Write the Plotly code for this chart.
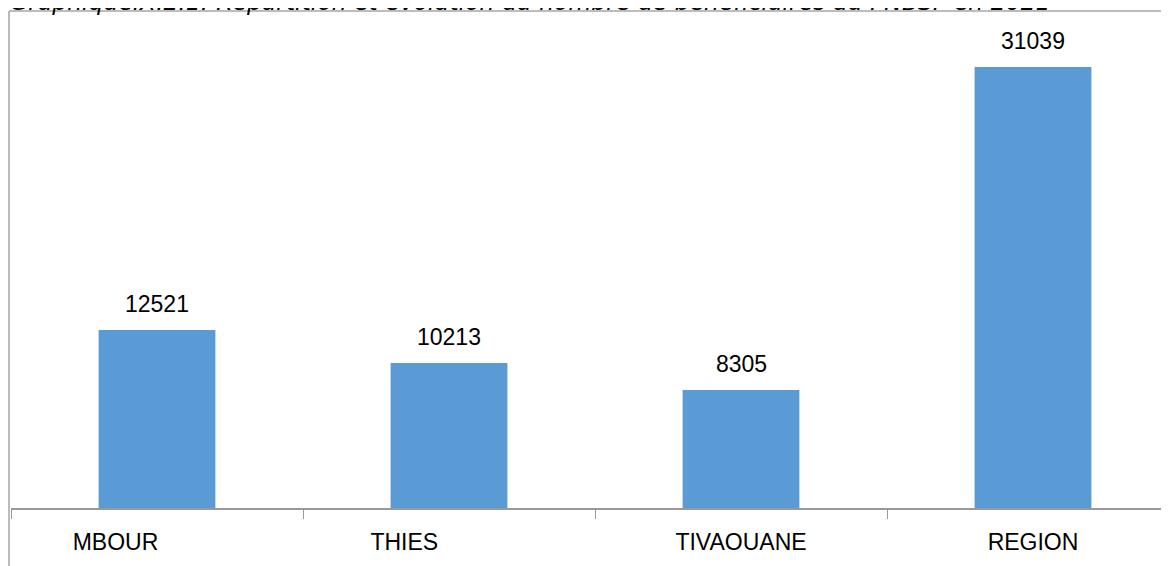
import plotly.graph_objects as go

# ---- data ----
categories = ["MBOUR", "THIES", "TIVAOUANE", "REGION"]
values = [12521, 10213, 8305, 31039]
# trailing padding as in the source labels (they are not centred there)
label_padding = [13, 14, 0, 0]
title_text = "GraphiqueIX.2.1: Répartition et évolution du nombre de bénéficiaires du PNBSF en 2021"

W, H = 1169, 566
ML, MR, MT, MB = 3, 0, 3, 66
PW = W - ML - MR
PH = H - MT - MB
CAT_PX = 292.0
PX_PER_UNIT = 441.0 / 31039.0  # vertical scale of the reference

ticktext = [c + "\u00a0" * p for c, p in zip(categories, label_padding)]

fig = go.Figure()
fig.add_trace(go.Bar(
    x=categories, y=values, width=0.4,
    marker=dict(color="#5B9BD5", line=dict(width=0)),
    hoverinfo="x+y",
))

for c, v in zip(categories, values):
    fig.add_annotation(
        x=c, y=v, text=str(v), showarrow=False, yanchor="bottom",
        yshift=11, font=dict(family="Liberation Sans", size=23, color="#000000"),
    )

# title, cut at the top edge like in the reference
title_center_px = -6
fig.add_annotation(
    xref="paper", yref="paper", x=(0 - ML) / PW, y=1 + (MT - title_center_px) / PH,
    xanchor="left", yanchor="middle", text="<i>" + title_text + "</i>",
    showarrow=False, font=dict(family="DejaVu Sans", size=23.5, color="#000000"),
)

frame_color = "#a6a6a6"
fx = (1 - ML) / PW
fig.add_shape(type="line", xref="paper", yref="paper", x0=fx, x1=fx,
              y0=1, y1=-MB / PH, line=dict(color=frame_color, width=1.5))
fig.add_shape(type="line", xref="paper", yref="paper", x0=fx, x1=1.0,
              y0=1, y1=1, line=dict(color=frame_color, width=1.5))

fig.update_layout(
    width=W, height=H,
    margin=dict(l=ML, r=MR, t=MT, b=MB),
    paper_bgcolor="white", plot_bgcolor="white",
    showlegend=False, bargap=0.6,
    xaxis=dict(
        type="category", range=[-0.5, -0.5 + PW / CAT_PX],
        tickmode="array", tickvals=categories, ticktext=ticktext,
        tickson="boundaries", ticks="outside", ticklen=9, tickwidth=1,
        tickcolor="#999999", showline=True, linecolor="#999999", linewidth=2,
        showgrid=False, zeroline=False,
        tickfont=dict(family="Liberation Sans", size=23, color="#000000"),
        ticklabelstandoff=12,
    ),
    yaxis=dict(range=[0, PH / PX_PER_UNIT], showticklabels=False, showgrid=False,
               zeroline=False, showline=False, ticks=""),
)

fig.write_html("out.html")
